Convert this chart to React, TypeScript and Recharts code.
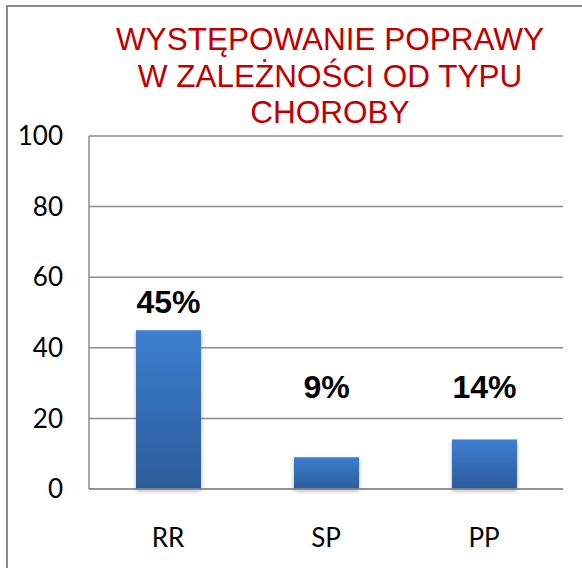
import { BarChart, Bar, XAxis, YAxis, CartesianGrid, LabelList } from 'recharts'

const TITLE_LINES = ['WYSTĘPOWANIE POPRAWY', 'W ZALEŻNOŚCI OD TYPU', 'CHOROBY']
const categories = ['RR', 'SP', 'PP']
const values = [45, 9, 14]
const valueLabels = ['45%', '9%', '14%']
const yTicks = [0, 20, 40, 60, 80, 100]

const LINE = '#8c8c8c'
const AXIS_FONT = 'Lato, "Open Sans", sans-serif'

const data = categories.map((name, i) => ({
  name,
  value: values[i],
  label: valueLabels[i],
}))

// labels sit above the bar, but never lower than the ~29 level (as in the slide)
function ValueLabel(props: any) {
  const { x, y, width, height, value, index } = props
  const perUnit = height / values[index]
  const floorY = y + height - 29 * perUnit
  const cy = Math.min(y - 29, floorY)
  return (
    <text
      x={x + width / 2}
      y={cy}
      dy="0.36em"
      textAnchor="middle"
      fill="#000"
      style={{ fontFamily: '"Liberation Sans", Arial, sans-serif', fontSize: 32, fontWeight: 700 }}
    >
      {value}
    </text>
  )
}

export default function App() {
  return (
    <div
      style={{
        position: 'fixed', left: 0, top: 0, width: 582, height: 568,
        overflow: 'hidden', background: '#fff',
      }}
    >
      {/* frame, runs off the right and bottom edge */}
      <div
        style={{
          position: 'absolute', left: 6, top: 5, width: 620, height: 620,
          border: `2px solid ${LINE}`, boxSizing: 'border-box',
        }}
      />

      {/* Title */}
      <div
        style={{
          position: 'absolute', left: 80, top: 21, width: 500,
          textAlign: 'center', color: '#c00000',
          fontFamily: '"Liberation Sans", Arial, sans-serif',
          fontSize: 31.5, lineHeight: '36.5px', whiteSpace: 'nowrap',
        }}
      >
        {TITLE_LINES.map((t) => <div key={t}>{t}</div>)}
      </div>

      <div style={{ position: 'absolute', left: 0, top: 0 }}>
        <BarChart
          width={582}
          height={568}
          data={data}
          margin={{ top: 136, right: 19, bottom: 0, left: 0 }}
        >
          <defs>
            <linearGradient id="barFill" x1="0" y1="0" x2="0" y2="1">
              <stop offset="0%" stopColor="#3d7fd0" />
              <stop offset="100%" stopColor="#2c5c9b" />
            </linearGradient>
            <filter id="barShadow" x="-20%" y="-20%" width="140%" height="140%">
              <feDropShadow dx="0" dy="2" stdDeviation="2" floodColor="#000" floodOpacity="0.3" />
            </filter>
          </defs>

          <CartesianGrid
            vertical={false}
            stroke={LINE}
            strokeWidth={1.5}
            strokeDasharray="none"
          />

          <XAxis
            dataKey="name"
            height={79}
            axisLine={{ stroke: LINE, strokeWidth: 1.5 }}
            tickLine={false}
            tickSize={0}
            tickMargin={40}
            tick={{ fill: '#000', fontSize: 26, fontFamily: AXIS_FONT }}
          />
          <YAxis
            domain={[0, 100]}
            ticks={yTicks}
            width={89}
            axisLine={{ stroke: LINE, strokeWidth: 1.5 }}
            tickLine={false}
            tickSize={0}
            tickMargin={26}
            tick={{ fill: '#000', fontSize: 26, fontFamily: AXIS_FONT }}
          />

          <Bar
            dataKey="value"
            barSize={65}
            fill="url(#barFill)"
            filter="url(#barShadow)"
            isAnimationActive={false}
          >
            <LabelList dataKey="label" content={ValueLabel} />
          </Bar>
        </BarChart>
      </div>
    </div>
  )
}
